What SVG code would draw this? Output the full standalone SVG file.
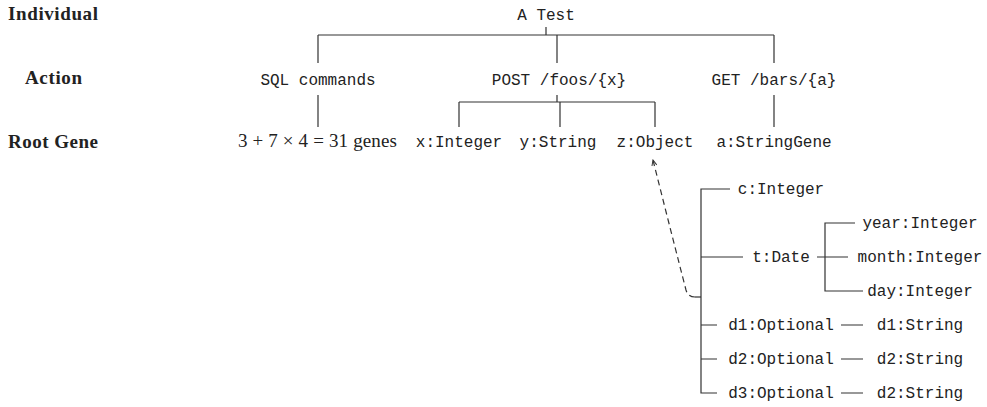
<svg xmlns="http://www.w3.org/2000/svg" width="987" height="407" viewBox="0 0 987 407">
  <style>
    .row { font-family: "Liberation Serif", serif; font-weight: bold; font-size: 19px; fill: #222; }
    .mono { font-family: "Liberation Mono", "DejaVu Sans Mono", monospace; font-size: 16px; fill: #222; }
    .math { font-family: "Liberation Serif", serif; font-size: 19px; fill: #222; }
    .mid { text-anchor: middle; }
    .edge { fill: none; stroke: #333; stroke-width: 1.2; }
    .ref { fill: none; stroke: #333; stroke-width: 1.2; stroke-dasharray: 6 4; }
  </style>
  <defs>
    <marker id="tip" viewBox="0 0 10 10" refX="9" refY="5" markerWidth="7" markerHeight="7" markerUnits="userSpaceOnUse" orient="auto">
      <path d="M1,1.5 L9,5 L1,8.5" fill="none" stroke="#333" stroke-width="1.4"/>
    </marker>
  </defs>
  <rect width="987" height="407" fill="#fff"/>

  <!-- level captions -->
  <g id="caption-individual"><text class="row" x="8" y="20" textLength="90">Individual</text></g>
  <g id="caption-action"><text class="row" x="25" y="84" textLength="57">Action</text></g>
  <g id="caption-rootgene"><text class="row" x="8" y="148" textLength="90">Root Gene</text></g>

  <!-- connectors -->
  <g id="connectors">
    <!-- individual to actions -->
    <path class="edge" d="M546,27 V35 M318,35 H774 M318,35 V63 M557,35 V63 M774,35 V63"/>
    <!-- actions to root genes -->
    <path class="edge" d="M318,95 V127 M774,95 V127"/>
    <path class="edge" d="M557,95 V102 M459,102 H655 M459,102 V127 M560,102 V127 M655,102 V127"/>
    <!-- object fields -->
    <path class="edge" d="M730,189 H701 V393 H717 M701,257 H743 M701,325 H717 M701,359 H717"/>
    <path class="edge" d="M695,297 H701"/>
    <!-- date fields -->
    <path class="edge" d="M817,257 H848 M855,223 H825 V291 H863"/>
    <!-- optional wrappers -->
    <path class="edge" d="M841,325 H863 M841,359 H863 M841,393 H863"/>
    <!-- reference from the object fields back to z -->
    <path class="ref" marker-end="url(#tip)" d="M695,297 Q688,297 686,290 Q668,220 653,160"/>
  </g>

  <!-- individual -->
  <g id="node-test"><text class="mono mid" x="546" y="20">A Test</text></g>

  <!-- actions -->
  <g id="node-sql"><text class="mono mid" x="318" y="85">SQL commands</text></g>
  <g id="node-post"><text class="mono mid" x="559" y="85">POST /foos/{x}</text></g>
  <g id="node-get"><text class="mono mid" x="774" y="85">GET /bars/{a}</text></g>

  <!-- root genes -->
  <g id="node-genes"><text class="math" x="238" y="147" textLength="159">3 + 7 × 4 = 31 genes</text></g>
  <g id="node-x"><text class="mono mid" x="459" y="147">x:Integer</text></g>
  <g id="node-y"><text class="mono mid" x="558" y="147">y:String</text></g>
  <g id="node-z"><text class="mono mid" x="655" y="147">z:Object</text></g>
  <g id="node-a"><text class="mono mid" x="774" y="147">a:StringGene</text></g>

  <!-- object fields -->
  <g id="node-c"><text class="mono mid" x="781" y="194">c:Integer</text></g>
  <g id="node-t"><text class="mono mid" x="781" y="262">t:Date</text></g>
  <g id="node-d1opt"><text class="mono mid" x="781" y="330">d1:Optional</text></g>
  <g id="node-d2opt"><text class="mono mid" x="781" y="364">d2:Optional</text></g>
  <g id="node-d3opt"><text class="mono mid" x="781" y="398">d3:Optional</text></g>

  <!-- date fields -->
  <g id="node-year"><text class="mono mid" x="920" y="228">year:Integer</text></g>
  <g id="node-month"><text class="mono mid" x="920" y="262">month:Integer</text></g>
  <g id="node-day"><text class="mono mid" x="920" y="296">day:Integer</text></g>

  <!-- optional contents -->
  <g id="node-d1str"><text class="mono mid" x="920" y="330">d1:String</text></g>
  <g id="node-d2str"><text class="mono mid" x="920" y="364">d2:String</text></g>
  <g id="node-d3str"><text class="mono mid" x="920" y="398">d2:String</text></g>
</svg>
